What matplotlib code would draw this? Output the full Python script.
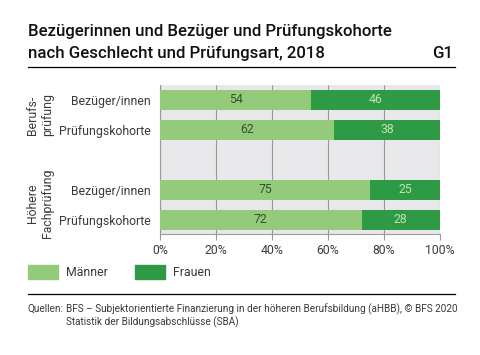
import numpy as np
import matplotlib.pyplot as plt
from matplotlib.patches import Rectangle
from matplotlib.lines import Line2D

plt.rcParams['font.family'] = ['Roboto', 'DejaVu Sans']

categories = ['Bezüger/innen', 'Prüfungskohorte', 'Bezüger/innen', 'Prüfungskohorte']
groups = ['Berufs-\nprüfung', 'Höhere\nFachprüfung']
maenner = [54, 62, 75, 72]
frauen = [46, 38, 25, 28]
ticks = [0, 20, 40, 60, 80, 100]

c_m = '#93cb7b'
c_f = '#2f9a45'
txt = '#3a3a3a'
fs = 8.8
fw = 'normal'

fig = plt.figure(figsize=(4.8, 3.55), dpi=100)
ax = fig.add_axes([160/480, 1-234/355, 280/480, 149/355])
ax.set_facecolor('#e8e8ea')

ypos = np.array([0, 1, 3, 4])
ax.barh(ypos, maenner, height=0.66, color=c_m, zorder=3)
ax.barh(ypos, frauen, left=maenner, height=0.66, color=c_f, zorder=3)
for y, m, f in zip(ypos, maenner, frauen):
    ax.text(m/2, y, str(m), ha='center', va='center', fontsize=fs,
            fontweight=fw, color='#34532e', zorder=4)
    ax.text(m + f/2, y, str(f), ha='center', va='center', fontsize=fs,
            fontweight=fw, color='#bfe3b6', zorder=4)

ax.set_xlim(0, 100)
ax.set_ylim(4.47, -0.5)
ax.set_xticks(ticks)
ax.set_xticklabels([f'{t}%' for t in ticks], fontsize=fs, fontweight=fw, color=txt)
ax.set_yticks(ypos)
ax.set_yticklabels(categories, fontsize=fs, fontweight=fw, color=txt)
ax.tick_params(axis='y', length=0, pad=7)
ax.tick_params(axis='x', length=4, color='#999999', pad=3)
ax.grid(axis='x', color='#999999', linewidth=0.8, zorder=1)
for s in ['top', 'right']:
    ax.spines[s].set_visible(False)
for s in ['left', 'bottom']:
    ax.spines[s].set_color('#999999')
    ax.spines[s].set_linewidth(0.8)

# group labels
fig.text(40/480, 1-115/355, groups[0], rotation=90, ha='center', va='center',
         fontsize=fs, fontweight=fw, color=txt, linespacing=1.15)
fig.text(40/480, 1-203/355, groups[1], rotation=90, ha='center', va='center',
         fontsize=fs, fontweight=fw, color=txt, linespacing=1.15)

# title
fig.text(28/480, 1-36/355, 'Bezügerinnen und Bezüger und Prüfungskohorte',
         fontsize=12.1, fontweight='medium', color='#111111', va='baseline')
fig.text(28/480, 1-58/355, 'nach Geschlecht und Prüfungsart, 2018',
         fontsize=12.1, fontweight='medium', color='#111111', va='baseline')
fig.text(453/480, 1-58/355, 'G1', fontsize=12.1, fontweight='medium',
         color='#111111', va='baseline', ha='right')
fig.add_artist(Line2D([28/480, 455/480], [1-67/355, 1-67/355], color='black', linewidth=0.9))

# legend
fig.add_artist(Rectangle((28/480, 1-279/355), 30/480, 14/355, color=c_m))
fig.text(66/480, 1-272/355, 'Männer', fontsize=fs, fontweight=fw, color=txt, va='center')
fig.add_artist(Rectangle((135/480, 1-279/355), 30/480, 14/355, color=c_f))
fig.text(173/480, 1-272/355, 'Frauen', fontsize=fs, fontweight=fw, color=txt, va='center')

fig.add_artist(Line2D([28/480, 455/480], [1-294/355, 1-294/355], color='black', linewidth=0.9))

fig.text(28/480, 1-309/355, 'Quellen:', fontsize=7.2, color=txt, va='center')
fig.text(66/480, 1-309/355,
         'BFS – Subjektorientierte Finanzierung in der höheren Berufsbildung (aHBB), © BFS 2020',
         fontsize=7.2, color=txt, va='center')
fig.text(66/480, 1-322/355, 'Statistik der Bildungsabschlüsse (SBA)',
         fontsize=7.2, color=txt, va='center')

fig.savefig('out.png', dpi=100, facecolor='white')
